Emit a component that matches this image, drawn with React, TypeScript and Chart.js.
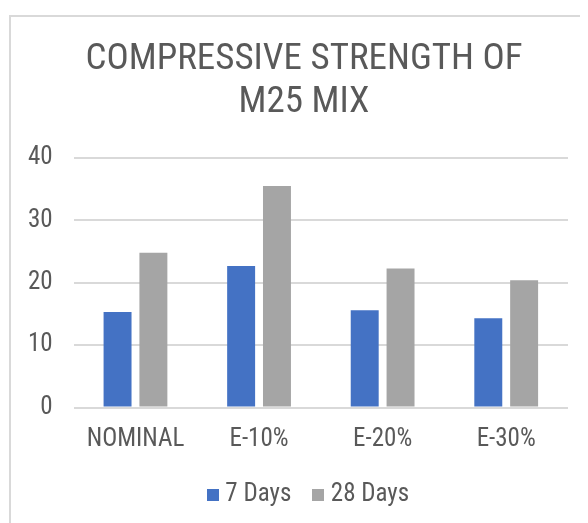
import React, { useEffect, useRef } from "react";
import { Chart, registerables } from "chart.js";

Chart.register(...registerables);

const categories = ["NOMINAL", "E-10%", "E-20%", "E-30%"];
const days7 = [15.3, 22.7, 15.6, 14.3];
const days28 = [24.8, 35.5, 22.3, 20.4];
const titleLines = ["COMPRESSIVE STRENGTH OF", "M25 MIX"];
const seriesNames = ["7 Days", "28 Days"];
const seriesColors = ["#4472C4", "#A5A5A5"];

const FONT = "'Roboto Condensed', 'Liberation Sans Narrow', sans-serif";
const TEXT = "#595959";
const CLEAR = "rgba(0,0,0,0)";

function swatch(color: string) {
  const c = document.createElement("canvas");
  c.width = 12;
  c.height = 12;
  const g = c.getContext("2d")!;
  g.fillStyle = color;
  g.fillRect(0, 0, 12, 12);
  return c;
}

export default function App() {
  const ref = useRef<HTMLCanvasElement | null>(null);

  useEffect(() => {
    if (!ref.current) return;
    const swatches = seriesColors.map(swatch);
    const shiftLegend = {
      id: "shiftLegend",
      afterLayout(chart: any) {
        if (chart.legend) {
          chart.legend.left += 7;
          chart.legend.right += 7;
        }
      },
    };
    const chart = new Chart(ref.current, {
      type: "bar",
      data: {
        labels: categories,
        datasets: [
          { label: seriesNames[0], data: days7, backgroundColor: seriesColors[0], borderWidth: 0 },
          { label: seriesNames[1], data: days28, backgroundColor: seriesColors[1], borderWidth: 0 },
        ],
      },
      plugins: [shiftLegend],
      options: {
        responsive: false,
        animation: false,
        datasets: { bar: { categoryPercentage: 0.58, barPercentage: 0.78 } },
        layout: { padding: { top: 10, left: 20, right: 18, bottom: 10 } },
        plugins: {
          title: {
            display: true,
            text: titleLines,
            color: TEXT,
            font: { family: FONT, size: 37, weight: "normal", lineHeight: 43 / 37 },
            padding: { top: 20, bottom: 34 },
          },
          legend: {
            position: "bottom",
            labels: {
              color: TEXT,
              font: { family: FONT, size: 25 },
              usePointStyle: true,
              pointStyleWidth: 0.01,
              boxHeight: 12,
              padding: 27,
              generateLabels: (c: any) => {
                const items = Chart.defaults.plugins.legend.labels.generateLabels(c);
                items.forEach((it: any, i: number) => {
                  it.pointStyle = swatches[i];
                });
                return items;
              },
            },
          },
          tooltip: { enabled: false },
        },
        scales: {
          x: {
            grid: {
              display: true,
              drawOnChartArea: false,
              drawTicks: true,
              tickLength: 17,
              color: CLEAR,
              tickColor: CLEAR,
            },
            border: { display: false },
            ticks: { color: TEXT, font: { family: FONT, size: 25 }, padding: 0 },
            afterFit: (axis: any) => {
              axis.height = 47.5;
            },
          },
          y: {
            min: 0,
            max: 40,
            grid: { color: "#d9d9d9", lineWidth: 2, drawTicks: true, tickLength: 21, tickColor: CLEAR },
            border: { display: false },
            ticks: { stepSize: 10, color: TEXT, font: { family: FONT, size: 25 }, padding: 0 },
          },
          y2: {
            type: "linear",
            position: "right",
            display: true,
            grid: { display: false, drawOnChartArea: false, drawTicks: false },
            border: { display: false },
            ticks: { display: false },
            afterFit: (axis: any) => {
              axis.width = 12;
            },
          },
        },
      },
    });
    return () => chart.destroy();
  }, []);

  return (
    <div style={{ position: "relative", width: 580, height: 515, overflow: "hidden", background: "#fff" }}>
      <div
        style={{
          position: "absolute",
          left: 1,
          top: 7,
          width: 700,
          height: 700,
          borderTop: "2px solid #d9d9d9",
          borderLeft: "2px solid #d9d9d9",
        }}
      />
      <canvas ref={ref} width={590} height={519} style={{ position: "absolute", left: 0, top: 0 }} />
    </div>
  );
}
